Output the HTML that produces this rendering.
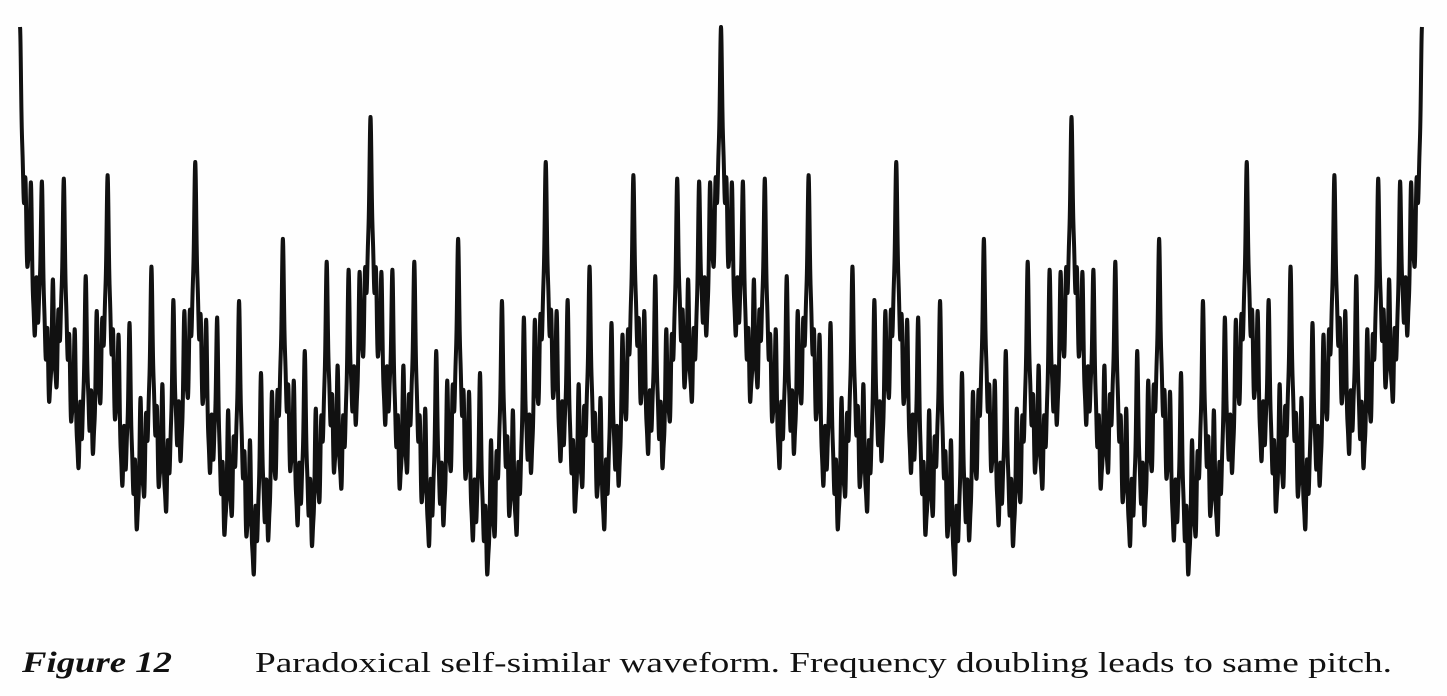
<!DOCTYPE html>
<html><head><meta charset="utf-8"><style>
html,body{margin:0;padding:0;background:#fff;}
svg{display:block;}
</style></head><body>
<svg id="chart" width="1447" height="696" viewBox="0 0 1447 696">
<rect x="0" y="0" width="1447" height="696" fill="#fefefe"/>
<path id="wave" fill="none" stroke="#111" stroke-width="4" stroke-linejoin="round"/>
<text x="22" y="672" font-family="Liberation Serif, serif" font-size="30" font-weight="bold" font-style="italic" textLength="150" lengthAdjust="spacingAndGlyphs" fill="#111">Figure 12</text>
<text x="255" y="672" font-family="Liberation Serif, serif" font-size="29" textLength="1137" lengthAdjust="spacingAndGlyphs" fill="#111">Paradoxical self-similar waveform. Frequency doubling leads to same pitch.</text>
</svg>
<script>
// Harmonic components: frequency multipliers (octaves) and their amplitudes
const harmonics = [1, 2, 4, 8, 16, 32, 64, 128, 256];
const amplitudes = [45, 45, 45, 45, 46, 46, 44, 36, 13];
const periods = [0, 2];

const x0 = 20, x1 = 1422, yTop = 27;
const total = amplitudes.reduce((a, b) => a + b, 0);
const yBase = yTop + total;
function xScale(t) { return x0 + (t - periods[0]) / (periods[1] - periods[0]) * (x1 - x0); }
function yScale(v) { return yBase - v; }
function value(t) {
  let s = 0;
  for (let k = 0; k < harmonics.length; k++) s += amplitudes[k] * Math.cos(2 * Math.PI * harmonics[k] * t);
  return s;
}
const n = 8000;
let d = '';
for (let i = 0; i <= n; i++) {
  const t = periods[0] + (periods[1] - periods[0]) * i / n;
  d += (i ? 'L' : 'M') + xScale(t).toFixed(2) + ',' + yScale(value(t)).toFixed(2);
}
document.getElementById('wave').setAttribute('d', d);
</script>
</body></html>
